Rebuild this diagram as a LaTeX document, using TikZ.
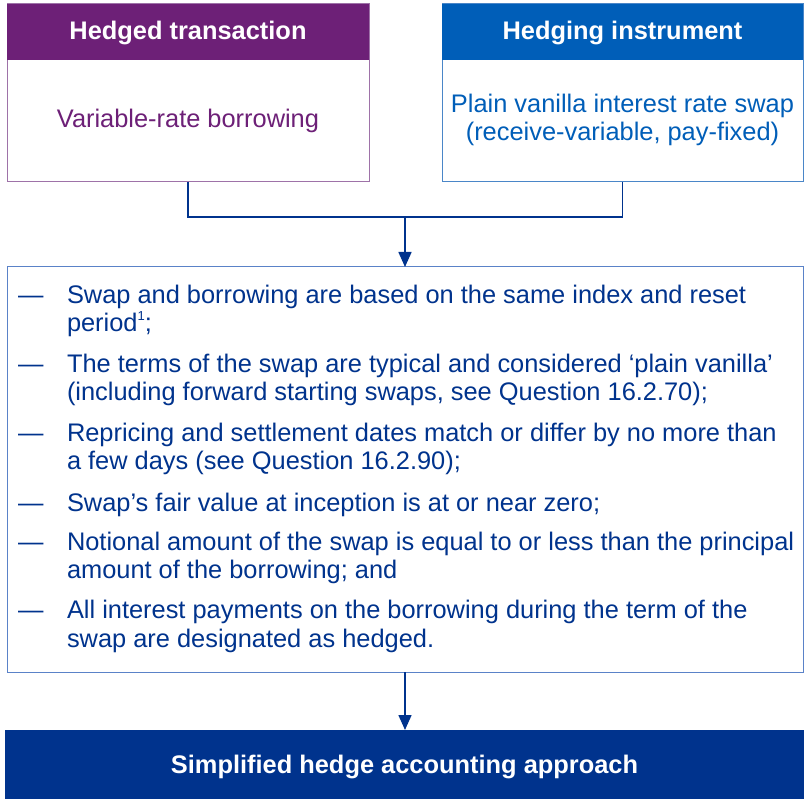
\documentclass[tikz,border=0pt]{standalone}
\usepackage{fontspec}
\setmainfont{Liberation Sans}
\usetikzlibrary{arrows.meta}
\definecolor{kpurple}{HTML}{6D2077}
\definecolor{kpurpleline}{HTML}{9E72A8}
\definecolor{kblue}{HTML}{005EB8}
\definecolor{kblueline}{HTML}{4A86C8}
\definecolor{kdark}{HTML}{00338D}
\definecolor{kmidline}{HTML}{5A82C8}
\tikzset{
  frame/.style={draw, line width=1pt, inner sep=0pt, outer sep=0pt, fill=white},
  band/.style={inner sep=0pt, outer sep=0pt},
  txt/.style={inner sep=0pt, outer sep=0pt, font=\fontsize{25.4}{28}\selectfont},
  btxt/.style={txt, font=\fontsize{25.4}{28}\selectfont\bfseries, text=white},
  conn/.style={draw=kdark, line width=1.6pt},
  arr/.style={conn, -{Triangle[width=13pt,length=15pt]}},
}
\begin{document}
\begin{tikzpicture}[x=1pt,y=-1pt]
\useasboundingbox (0,0) rectangle (804,799);
% left box
\node[frame, draw=kpurpleline, minimum width=362pt, minimum height=178pt] (lbox) at (188,93) {};
\node[band, fill=kpurple, minimum width=362pt, minimum height=56pt] (lhead) at (188,32) {};
\node[btxt, anchor=base] (lhtxt) at (188,40) {Hedged transaction};
\node[txt, anchor=base, text=kpurple] (ltxt) at (188,128) {Variable-rate borrowing};
% right box
\node[frame, draw=kblueline, minimum width=361pt, minimum height=178pt] (rbox) at (622.5,93) {};
\node[band, fill=kblue, minimum width=361pt, minimum height=56pt] (rhead) at (622.5,32) {};
\node[btxt, anchor=base] (rhtxt) at (622.5,40) {Hedging instrument};
\node[txt, anchor=base, text=kblue] (rtxt1) at (622.5,113) {Plain vanilla interest rate swap};
\node[txt, anchor=base, text=kblue] (rtxt2) at (622.5,141) {(receive-variable, pay-fixed)};
% middle box
\node[frame, draw=kmidline, minimum width=796pt, minimum height=405pt] (mid) at (405,469.5) {};
\coordinate (j) at (405,217);
\draw[conn] (lbox.south) |- (j);
\draw[conn] (rbox.south) |- (j);
\draw[arr] (j) -- (mid.north);
% items
\begin{scope}[every node/.style={txt, anchor=base west, text=kdark}]
\node (d1) at (18,304) {—};
\node (t1a) at (67,304) {Swap and borrowing are based on the same index and reset};
\node (t1b) at (67,332) {period\raisebox{11pt}{\fontsize{13}{13}\selectfont 1};};
\node (d2) at (18,373) {—};
\node (t2a) at (67,373) {The terms of the swap are typical and considered ‘plain vanilla’};
\node (t2b) at (67,401) {(including forward starting swaps, see Question 16.2.70);};
\node (d3) at (18,442) {—};
\node (t3a) at (67,442) {Repricing and settlement dates match or differ by no more than};
\node (t3b) at (67,470) {a few days (see Question 16.2.90);};
\node (d4) at (18,512) {—};
\node (t4a) at (67,512) {Swap’s fair value at inception is at or near zero;};
\node (d5) at (18,551) {—};
\node (t5a) at (67,551) {Notional amount of the swap is equal to or less than the principal};
\node (t5b) at (67,579) {amount of the borrowing; and};
\node (d6) at (18,619) {—};
\node (t6a) at (67,619) {All interest payments on the borrowing during the term of the};
\node (t6b) at (67,648) {swap are designated as hedged.};
\end{scope}
% bottom box
\node[band, fill=kdark, minimum width=799pt, minimum height=69pt] (bot) at (404.5,764.5) {};
\node[btxt, anchor=base] (bottxt) at (404.5,773) {Simplified hedge accounting approach};
\draw[arr] (mid.south) -- (mid.south |- bot.north);
\end{tikzpicture}
\end{document}
